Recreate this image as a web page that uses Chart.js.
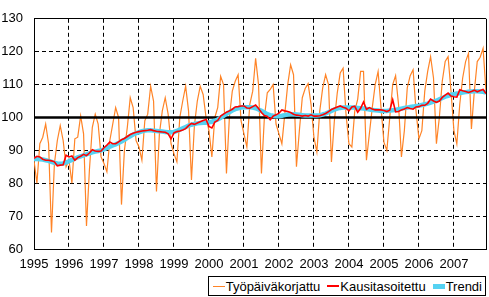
<!DOCTYPE html>
<html>
<head>
<meta charset="utf-8">
<script src="https://cdn.jsdelivr.net/npm/chart.js@4.4.0/dist/chart.umd.min.js"></script>
<style>
  html, body { margin: 0; padding: 0; background: #fff; }
  #wrap { position: relative; width: 489px; height: 297px; }
  #legend {
    position: absolute; right: 3px; top: 276px; height: 20px;
    box-sizing: border-box; border: 1px solid #000; background: #fff;
    display: flex; align-items: center; padding: 0 3px 0 4px; gap: 7px;
    font: 13px "Liberation Sans", Arial, sans-serif; color: #000;
  }
  #legend .item { display: flex; align-items: center; white-space: nowrap; }
  #legend .swatch { display: inline-block; width: 12px; margin-right: 1px; }
</style>
</head>
<body>
<div id="wrap"><canvas id="chart"></canvas><div id="legend"></div></div>
<script>
// Vuosien nimiöt x-akselille (tammikuun kohdalla)
const yearLabels = ["1995", "1996", "1997", "1998", "1999", "2000", "2001",
  "2002", "2003", "2004", "2005", "2006", "2007"];

// Kuukausisarjat 1/1995 - 12/2007
const tyopaivakorjattu = [
  87, 80, 92, 94, 98, 92, 65, 86, 93, 97.5, 93, 85,
  87, 80, 93.5, 94, 100.5, 95, 67, 84, 97, 101, 98, 88,
  86, 83.5, 93, 98, 103, 100, 73.5, 90, 97, 106, 103, 93,
  91, 87, 99, 101, 109.5, 105, 77.5, 95, 102, 106, 101, 92,
  89, 86.5, 100, 105, 109.5, 102, 81, 97.5, 105, 109.5, 107, 100,
  96, 88, 100, 103, 112.5, 110, 83, 100, 108, 111, 113, 99,
  95, 91, 104, 108, 118, 110, 83, 100, 107.5, 108.5, 110, 98,
  95, 92, 101, 110, 116, 113, 85, 96, 106, 108.8, 110.3, 104,
  94, 89.5, 102, 109, 113, 110, 86.5, 99, 107.5, 113.5, 115, 101,
  92, 91, 102, 105.5, 114, 114, 87, 95, 103, 110, 114, 103,
  92.5, 90, 100, 110, 112.7, 104, 88, 96, 109, 112.7, 114.5, 102,
  93.5, 96, 108, 114, 118.5, 112, 92, 100, 111, 117, 118.5, 108,
  96, 92, 104, 112, 117, 119.5, 96.5, 108, 117, 118.3, 121, 108
];

const kausitasoitettu = [
  87.6, 88.2, 88, 87.3, 87, 87, 86.8, 86.5, 85.3, 85.5, 85.6, 88.5,
  88, 88.3, 87, 87.8, 88.2, 88.8, 88.4, 89.2, 90.2, 89.8, 89.7, 89.8,
  90.8, 91.6, 92.5, 92, 92, 92.6, 93.2, 93.6, 94.2, 94.8, 95.2, 95.5,
  95.7, 95.9, 96, 96.1, 96.3, 96, 95.8, 95.7, 95.6, 95.5, 95, 93.5,
  95.3, 95.7, 95.9, 96.2, 96.6, 97.5, 98.2, 97.9, 98.3, 98.7, 99.1, 99.4,
  97.3, 96.8, 98.6, 99.1, 100.4, 101, 101.6, 102, 102.5, 103.2, 103.3, 103.5,
  103.5, 102.9, 102.8, 103.3, 103.8, 102.7, 101.5, 100.6, 100.3, 99.3, 100.4, 100.8,
  101.3, 102.3, 102, 101.8, 101.5, 101, 100.7, 100.6, 100.4, 100.6, 100.4, 100.8,
  100.4, 100.4, 100.5, 100.8, 101.2, 101.8, 102.4, 102.8, 103.2, 103.5, 103.1, 102.8,
  102, 103.2, 103.4, 101.6, 102.8, 104.7, 102.5, 103, 102.6, 102.3, 102.3, 102.3,
  102.1, 101.8, 102.2, 105.4, 101.7, 101.8, 102.3, 102.6, 103, 102.7, 102.5, 103.2,
  103.3, 103.7, 103.7, 104.3, 105.6, 105, 104.6, 105, 106.1, 106.8, 107.4, 106.5,
  106.3, 106.2, 108.4, 108.1, 107.9, 107.6, 107.9, 108.3, 107.8, 108.2, 108.5, 107.3
];

const trendi = [
  87.4, 87.4, 87.3, 87.2, 87, 86.8, 86.5, 86.2, 86, 85.9, 86, 86.3,
  86.7, 87.1, 87.5, 87.9, 88.2, 88.5, 88.8, 89.1, 89.4, 89.6, 89.8, 90,
  90.3, 90.7, 91.1, 91.5, 91.8, 92.2, 92.7, 93.2, 93.8, 94.3, 94.8, 95.2,
  95.5, 95.8, 96, 96.1, 96.1, 96, 95.9, 95.8, 95.7, 95.6, 95.5, 95.5,
  95.6, 95.9, 96.3, 96.7, 97.1, 97.5, 97.8, 98, 98.2, 98.3, 98.4, 98.4,
  98.5, 98.7, 99, 99.4, 99.9, 100.5, 101.1, 101.6, 102.1, 102.5, 102.8, 103,
  103.1, 103.1, 103.1, 103, 102.8, 102.4, 102, 101.5, 101, 100.7, 100.5, 100.4,
  100.4, 100.5, 100.7, 100.9, 101, 101, 100.9, 100.8, 100.7, 100.6, 100.6, 100.6,
  100.6, 100.6, 100.7, 100.9, 101.2, 101.6, 102, 102.4, 102.7, 102.9, 103, 103,
  103, 103, 103, 102.9, 102.8, 102.7, 102.6, 102.4, 102.3, 102.2, 102.1, 102,
  102, 102, 102.1, 102.2, 102.3, 102.5, 102.7, 102.9, 103, 103.2, 103.3, 103.5,
  103.6, 103.8, 104, 104.2, 104.5, 104.8, 105.1, 105.5, 105.9, 106.3, 106.6, 106.9,
  107.1, 107.3, 107.4, 107.6, 107.7, 107.8, 107.9, 108, 108, 107.9, 107.8, 107.6
];

const baseLevel = 100;
const yMin = 60;
const yMax = 130;

const toPoints = (arr) => arr.map((v, i) => ({ x: i, y: v }));
const lastIndex = tyopaivakorjattu.length - 1;

Chart.defaults.font.family = "'Liberation Sans', Arial, sans-serif";
Chart.defaults.font.size = 13;
Chart.defaults.color = "#000";

const chart = new Chart(document.getElementById("chart"), {
  type: "line",
  data: {
    datasets: [
      {
        label: "Työpäiväkorjattu",
        data: toPoints(tyopaivakorjattu),
        borderColor: "#ff8427",
        borderWidth: 1.2,
        order: 3,
      },
      {
        label: "Kausitasoitettu",
        data: toPoints(kausitasoitettu),
        borderColor: "#ff0000",
        borderWidth: 1.6,
        order: 0,
      },
      {
        label: "Trendi",
        data: toPoints(trendi),
        borderColor: "#55d2f2",
        borderWidth: 4.5,
        order: 1,
      },
      {
        label: "",
        data: [{ x: 0, y: baseLevel }, { x: lastIndex, y: baseLevel }],
        borderColor: "#000",
        borderWidth: 2.6,
        order: 2,
      },
    ],
  },
  options: {
    responsive: true,
    maintainAspectRatio: false,
    animation: false,
    devicePixelRatio: 1,
    layout: { padding: { top: 1, right: 3, bottom: 24, left: 0 } },
    elements: {
      point: { radius: 0, hoverRadius: 0 },
      line: { tension: 0, fill: false },
    },
    plugins: {
      tooltip: { enabled: false },
      legend: { display: false },
    },
    scales: {
      x: {
        type: "linear",
        min: 0,
        max: lastIndex,
        // vuoden vaihteet + oikea reuna kehykseksi
        afterBuildTicks: (scale) => {
          const ticks = yearLabels.map((_, i) => ({ value: i * 12 }));
          ticks.push({ value: lastIndex });
          scale.ticks = ticks;
        },
        afterFit: (scale) => {
          scale.height = 24;
          scale.paddingLeft = 0;
          scale.paddingRight = 0;
        },
        ticks: {
          callback: (v) => (v % 12 === 0 ? yearLabels[v / 12] : ""),
          padding: 8,
          maxRotation: 0,
          autoSkip: false,
        },
        grid: { display: true, color: "#000000", lineWidth: 1, drawTicks: false },
        border: {
          display: true,
          color: "#000",
          dash: (ctx) => (ctx.tick && ctx.tick.value === lastIndex ? [] : [4, 3]),
        },
      },
      y: {
        min: yMin,
        max: yMax,
        afterFit: (scale) => {
          scale.width = 34;
        },
        ticks: { stepSize: 10, padding: 11 },
        grid: { display: true, color: "#000000", lineWidth: 1, drawTicks: false },
        border: {
          display: true,
          color: "#000",
          dash: (ctx) => (ctx.tick && ctx.tick.value === yMax ? [] : [4, 3]),
        },
      },
    },
  },
});

// Selite HTML:nä sarjojen väreistä
const legendEl = document.getElementById("legend");
chart.data.datasets.filter((ds) => ds.label).forEach((ds) => {
  const item = document.createElement("span");
  item.className = "item";
  const sw = document.createElement("span");
  sw.className = "swatch";
  sw.style.height = Math.max(1, Math.round(ds.borderWidth)) + "px";
  sw.style.background = ds.borderColor;
  const txt = document.createElement("span");
  txt.textContent = ds.label;
  item.append(sw, txt);
  legendEl.appendChild(item);
});
</script>
</body>
</html>
